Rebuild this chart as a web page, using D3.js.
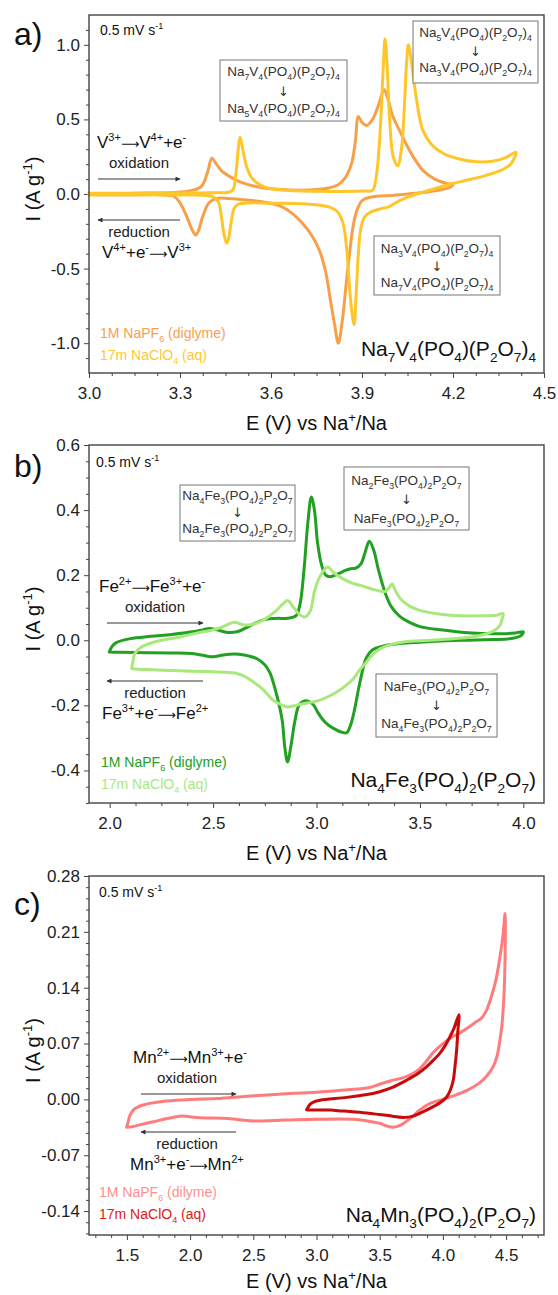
<!DOCTYPE html>
<html>
<head>
<meta charset="utf-8">
<script src="https://cdn.jsdelivr.net/npm/d3@7"></script>
<style>
body { margin: 0; background: #fff; }
svg { display: block; font-family: "Liberation Sans", Arial, sans-serif; }
.tick text { fill: #222; }
.tick line { stroke: #444; }
</style>
</head>
<body>
<svg width="558" height="1295"></svg>
<script>
// ---- data: [E (V vs Na+/Na), I (A g-1)] ----
var vDiglyme = [[3.0,0.0],[3.1,0.003],[3.2,0.006],[3.28,0.01],[3.33,0.02],[3.37,0.05],[3.39,0.14],[3.405,0.24],[3.42,0.2],[3.44,0.15],[3.47,0.11],[3.5,0.08],[3.55,0.05],[3.6,0.035],[3.65,0.028],[3.7,0.025],[3.75,0.03],[3.79,0.04],[3.82,0.06],[3.845,0.11],[3.865,0.2],[3.878,0.35],[3.888,0.52],[3.9,0.48],[3.915,0.46],[3.935,0.5],[3.955,0.6],[3.973,0.70],[3.985,0.64],[4.0,0.53],[4.03,0.4],[4.06,0.28],[4.1,0.16],[4.14,0.1],[4.18,0.07],[4.2,0.065],
  [4.19,0.045],[4.15,0.025],[4.1,0.01],[4.05,0.0],[4.0,-0.01],[3.95,-0.015],[3.92,-0.025],[3.9,-0.045],[3.885,-0.1],[3.872,-0.2],[3.86,-0.38],[3.848,-0.6],[3.835,-0.85],[3.822,-1.0],[3.81,-0.88],[3.795,-0.7],[3.78,-0.52],[3.76,-0.38],[3.735,-0.28],[3.705,-0.2],[3.67,-0.13],[3.63,-0.08],[3.58,-0.055],[3.52,-0.04],[3.46,-0.03],[3.42,-0.03],[3.395,-0.06],[3.375,-0.15],[3.36,-0.25],[3.352,-0.275],[3.34,-0.24],[3.32,-0.14],[3.3,-0.06],[3.28,-0.015],[3.24,-0.005],[3.15,-0.005],[3.0,-0.003]];
var vAq = [[3.0,0.005],[3.2,0.006],[3.4,0.008],[3.46,0.012],[3.475,0.03],[3.485,0.15],[3.492,0.3],[3.498,0.38],[3.507,0.3],[3.52,0.18],[3.54,0.1],[3.565,0.06],[3.6,0.035],[3.65,0.025],[3.7,0.02],[3.8,0.017],[3.9,0.02],[3.935,0.025],[3.943,0.07],[3.952,0.2],[3.962,0.5],[3.97,0.85],[3.976,1.04],[3.983,0.85],[3.992,0.47],[4.003,0.25],[4.018,0.19],[4.03,0.3],[4.04,0.6],[4.047,0.88],[4.053,1.0],[4.062,0.9],[4.08,0.63],[4.1,0.43],[4.13,0.33],[4.17,0.27],[4.22,0.235],[4.28,0.216],[4.33,0.22],[4.37,0.24],[4.408,0.28],
  [4.39,0.2],[4.36,0.16],[4.3,0.12],[4.24,0.09],[4.2,0.07],[4.13,0.03],[4.08,0.0],[4.04,-0.03],[4.01,-0.06],[3.99,-0.085],[3.96,-0.1],[3.93,-0.12],[3.91,-0.15],[3.897,-0.22],[3.888,-0.4],[3.88,-0.7],[3.874,-0.875],[3.866,-0.78],[3.858,-0.6],[3.85,-0.38],[3.838,-0.2],[3.82,-0.12],[3.795,-0.09],[3.76,-0.075],[3.7,-0.065],[3.6,-0.062],[3.53,-0.06],[3.49,-0.07],[3.478,-0.1],[3.468,-0.2],[3.46,-0.3],[3.454,-0.33],[3.446,-0.28],[3.437,-0.16],[3.428,-0.06],[3.415,-0.025],[3.39,-0.01],[3.3,-0.006],[3.0,-0.006]];

var feDiglyme = [[1.998,-0.036],[2.01,-0.02],[2.03,-0.008],[2.1,0.005],[2.2,0.012],[2.3,0.018],[2.4,0.026],[2.45,0.032],[2.48,0.036],[2.52,0.032],[2.57,0.024],[2.62,0.027],[2.68,0.045],[2.74,0.062],[2.8,0.067],[2.86,0.068],[2.9,0.075],[2.92,0.11],[2.94,0.22],[2.958,0.36],[2.975,0.44],[2.99,0.4],[3.005,0.3],[3.025,0.23],[3.045,0.2],[3.065,0.195],[3.09,0.2],[3.115,0.207],[3.14,0.215],[3.165,0.22],[3.19,0.222],[3.215,0.235],[3.235,0.27],[3.255,0.304],[3.275,0.28],[3.3,0.215],[3.33,0.15],[3.36,0.105],[3.4,0.075],[3.45,0.055],[3.5,0.042],[3.6,0.032],[3.7,0.025],[3.8,0.021],[3.9,0.02],[3.96,0.022],[4.0,0.026],
  [3.99,0.015],[3.95,0.006],[3.85,0.002],[3.7,0.0],[3.55,-0.004],[3.4,-0.01],[3.32,-0.018],[3.27,-0.03],[3.24,-0.055],[3.22,-0.1],[3.2,-0.16],[3.185,-0.21],[3.165,-0.26],[3.146,-0.284],[3.12,-0.282],[3.098,-0.276],[3.06,-0.262],[3.033,-0.246],[3.005,-0.22],[2.985,-0.198],[2.96,-0.187],[2.936,-0.188],[2.915,-0.2],[2.895,-0.25],[2.875,-0.33],[2.86,-0.374],[2.847,-0.33],[2.835,-0.25],[2.82,-0.2],[2.8,-0.15],[2.775,-0.1],[2.75,-0.075],[2.71,-0.056],[2.65,-0.045],[2.6,-0.042],[2.55,-0.045],[2.5,-0.051],[2.45,-0.046],[2.4,-0.041],[2.3,-0.039],[2.18,-0.038],[2.05,-0.037],[1.998,-0.036]];
var feAq = [[2.106,-0.087],[2.114,-0.06],[2.122,-0.04],[2.15,-0.022],[2.18,-0.013],[2.25,0.0],[2.34,0.01],[2.42,0.022],[2.5,0.032],[2.56,0.045],[2.6,0.055],[2.65,0.047],[2.7,0.05],[2.75,0.065],[2.8,0.088],[2.835,0.11],[2.86,0.122],[2.89,0.1],[2.92,0.078],[2.945,0.072],[2.97,0.09],[2.99,0.15],[3.02,0.2],[3.055,0.225],[3.08,0.21],[3.1,0.2],[3.14,0.185],[3.18,0.174],[3.22,0.167],[3.26,0.159],[3.3,0.152],[3.33,0.15],[3.35,0.16],[3.365,0.173],[3.38,0.155],[3.405,0.128],[3.45,0.105],[3.5,0.092],[3.6,0.08],[3.7,0.075],[3.8,0.075],[3.87,0.077],[3.903,0.082],
  [3.895,0.06],[3.887,0.046],[3.86,0.03],[3.823,0.02],[3.75,0.01],[3.662,0.005],[3.55,0.0],[3.42,-0.005],[3.35,-0.015],[3.307,-0.026],[3.27,-0.045],[3.243,-0.066],[3.21,-0.09],[3.178,-0.118],[3.14,-0.14],[3.098,-0.159],[3.06,-0.172],[3.017,-0.184],[2.976,-0.19],[2.936,-0.195],[2.9,-0.2],[2.86,-0.205],[2.83,-0.198],[2.79,-0.184],[2.74,-0.15],[2.695,-0.128],[2.65,-0.11],[2.614,-0.102],[2.55,-0.098],[2.5,-0.097],[2.4,-0.095],[2.26,-0.092],[2.18,-0.09],[2.12,-0.088],[2.106,-0.087]];

var mnDiglyme = [[1.498,-0.035],[1.51,-0.028],[1.524,-0.02],[1.56,-0.012],[1.63,-0.007],[1.72,-0.004],[1.81,-0.002],[2.0,0.0],[2.21,0.001],[2.45,0.004],[2.7,0.0065],[3.0,0.009],[3.25,0.012],[3.42,0.015],[3.5,0.019],[3.58,0.023],[3.7,0.028],[3.79,0.035],[3.86,0.046],[3.92,0.058],[3.98,0.067],[4.06,0.077],[4.14,0.084],[4.21,0.091],[4.26,0.097],[4.3,0.101],[4.34,0.11],[4.38,0.127],[4.42,0.15],[4.45,0.177],[4.475,0.205],[4.492,0.233],
  [4.494,0.2],[4.488,0.15],[4.478,0.115],[4.465,0.09],[4.451,0.074],[4.43,0.055],[4.398,0.041],[4.35,0.03],[4.293,0.021],[4.2,0.012],[4.109,0.006],[4.0,0.0],[3.9,-0.005],[3.82,-0.013],[3.74,-0.024],[3.67,-0.032],[3.607,-0.035],[3.55,-0.033],[3.5,-0.03],[3.4,-0.027],[3.29,-0.025],[3.0,-0.025],[2.75,-0.026],[2.5,-0.027],[2.3,-0.024],[2.08,-0.023],[1.92,-0.021],[1.82,-0.024],[1.71,-0.028],[1.6,-0.032],[1.55,-0.034],[1.498,-0.035]];
var mnAq = [[2.922,-0.013],[2.95,-0.006],[2.98,-0.003],[3.028,-0.001],[3.24,0.0025],[3.4,0.006],[3.5,0.0095],[3.6,0.015],[3.713,0.024],[3.8,0.032],[3.872,0.041],[3.93,0.05],[3.977,0.058],[4.02,0.068],[4.056,0.0785],[4.09,0.09],[4.127,0.106],
  [4.118,0.085],[4.109,0.062],[4.095,0.04],[4.082,0.024],[4.06,0.012],[4.03,0.003],[3.98,-0.004],[3.924,-0.009],[3.85,-0.015],[3.766,-0.021],[3.687,-0.0226],[3.55,-0.02],[3.37,-0.0168],[3.2,-0.0145],[3.107,-0.0134],[2.95,-0.0133],[2.922,-0.013]];

var xTicksA = [3.0, 3.3, 3.6, 3.9, 4.2, 4.5];
var yTicksA = [-1.0, -0.5, 0.0, 0.5, 1.0];
var xTicksB = [2.0, 2.5, 3.0, 3.5, 4.0];
var yTicksB = [-0.4, -0.2, 0.0, 0.2, 0.4, 0.6];
var xTicksC = [1.5, 2.0, 2.5, 3.0, 3.5, 4.0, 4.5];
var yTicksC = [-0.14, -0.07, 0.0, 0.07, 0.14, 0.21, 0.28];

var electrolytes = ["1M NaPF_6 (diglyme)", "17m NaClO_4 (aq)"];
var electrolytesC = ["1M NaPF_6 (dilyme)", "17m NaClO_4 (aq)"];

var svg = d3.select("svg");

var defs = svg.append("defs");
defs.append("marker").attr("id", "ah")
    .attr("viewBox", "0 0 10 10").attr("refX", 9).attr("refY", 5)
    .attr("markerWidth", 7).attr("markerHeight", 5)
    .attr("orient", "auto")
  .append("path").attr("d", "M0,0L10,5L0,10z").attr("fill", "#333");

// split "Na_4Fe^{3+}" into normal / sub / sup pieces
function tokens(str){
    var out = [], i = 0, buf = "";
    while (i < str.length) {
        var c = str[i];
        if (c === "_" || c === "^") {
            if (buf) { out.push({t: buf, k: 0}); buf = ""; }
            var s;
            if (str[i+1] === "{") { var j = str.indexOf("}", i); s = str.slice(i+2, j); i = j + 1; }
            else { s = str[i+1]; i += 2; }
            out.push({t: s, k: c === "_" ? 1 : -1});
        } else if (c === "\u27F6") {
            if (buf) { out.push({t: buf, k: 0}); buf = ""; }
            out.push({t: c, k: 0, arrow: true});
            i++;
        } else { buf += c; i++; }
    }
    if (buf) out.push({t: buf, k: 0});
    return out;
}

function richText(g, str, x, y, size, color, anchor){
    var t = g.append("text")
        .attr("x", x).attr("y", y)
        .attr("font-size", size)
        .attr("fill", color || "#111")
        .attr("text-anchor", anchor || "start");
    var cur = 0;
    tokens(str).forEach(function(tk){
        var off = tk.k === 1 ? size * 0.3 : (tk.k === -1 ? -size * 0.42 : 0);
        var ts = t.append("tspan")
            .attr("dy", off - cur)
            .attr("font-size", tk.k ? size * 0.65 : size)
            .text(tk.t);
        if (tk.arrow) ts.attr("font-family", "DejaVu Sans").attr("font-size", size * 0.75);
        cur = off;
    });
    return t;
}

function minorTicks(lo, hi, step, major){
    return d3.range(lo, hi + step / 2, step).filter(function(v){
        var r = v / major;
        return Math.abs(r - Math.round(r)) > 1e-6;
    });
}

function arrow(g, x1, x2, y){
    g.append("line").attr("x1", x1).attr("x2", x2).attr("y1", y).attr("y2", y)
        .attr("stroke", "#333").attr("stroke-width", 1)
        .attr("marker-end", "url(#ah)");
}

function box(g, x0, y0, w, h, top, bottom, ys){
    g.append("rect").attr("x", x0).attr("y", y0).attr("width", w).attr("height", h)
        .attr("fill", "#fff").attr("stroke", "#777").attr("stroke-width", 1);
    var cx = x0 + w / 2;
    richText(g, top, cx, ys[0], 13.5, "#333", "middle");
    g.append("text").attr("x", cx).attr("y", ys[1]).attr("font-size", 13)
        .attr("font-family", "DejaVu Sans")
        .attr("fill", "#333").attr("text-anchor", "middle").text("\u2193");
    richText(g, bottom, cx, ys[2], 13.5, "#333", "middle");
}

function drawPanel(p){
    var g = svg.append("g").attr("transform", "translate(" + p.left + "," + p.top + ")");
    var w = p.width, h = p.height;

    var x = d3.scaleLinear().domain(p.xDomain).range([0, w]);
    var y = d3.scaleLinear().domain(p.yDomain).range([h, 0]);

    g.append("g").attr("transform", "translate(0," + h + ")")
        .call(d3.axisBottom(x).tickValues(p.xMinor).tickSize(3).tickFormat(""));
    g.append("g")
        .call(d3.axisLeft(y).tickValues(p.yMinor).tickSize(3).tickFormat(""));

    g.append("g").attr("transform", "translate(0," + h + ")")
        .call(d3.axisBottom(x).tickValues(p.xTicks).tickSize(5).tickPadding(9)
            .tickFormat(function(d){ return d.toFixed(1); }))
        .selectAll("text").attr("font-size", 17).attr("font-family", null);
    g.append("g")
        .call(d3.axisLeft(y).tickValues(p.yTicks).tickSize(5).tickPadding(4)
            .tickFormat(function(d){ return d.toFixed(p.yDec); }))
        .selectAll("text").attr("font-size", 17).attr("font-family", null);
    g.selectAll(".domain").remove();

    var line = d3.line()
        .x(function(d){ return x(d[0]); })
        .y(function(d){ return y(d[1]); })
        .curve(d3.curveCatmullRom.alpha(0.5));

    p.series.forEach(function(s){
        g.append("path")
            .datum(s.data)
            .attr("fill", "none")
            .attr("stroke", s.color)
            .attr("stroke-width", 3)
            .attr("stroke-linejoin", "round")
            .attr("stroke-linecap", "round")
            .attr("d", line);
    });

    g.append("rect").attr("width", w).attr("height", h)
        .attr("fill", "none").attr("stroke", "#444").attr("stroke-width", 1.4);

    // axis titles + panel letter
    richText(g, "E (V) vs Na^{+}/Na", w / 2, p.xTitleY, 20, "#111", "middle");
    var yt = richText(svg.append("g"), "I (A g^{-1})", 0, 0, 20, "#111", "middle");
    yt.attr("transform", "translate(40," + (p.top + h / 2 - 5) + ") rotate(-90)");
    svg.append("text").attr("x", 14).attr("y", p.top + p.letterY)
        .attr("font-size", 32).attr("fill", "#111").text(p.letter);

    // annotations
    richText(g, "0.5 mV s^{-1}", p.rateX, p.rateY, 14, "#111");
    richText(g, p.ox, p.oxX, p.oxY, 17, "#111");
    g.append("text").attr("x", p.oxLabelX).attr("y", p.oxY + 20).attr("font-size", 15)
        .attr("text-anchor", "middle").attr("fill", "#222").text("oxidation");
    arrow(g, p.arrowL, p.arrowR, p.oxY + 31);
    arrow(g, p.arrowR, p.arrowL, p.redArrowY);
    g.append("text").attr("x", p.oxLabelX).attr("y", p.redArrowY + 17).attr("font-size", 15)
        .attr("text-anchor", "middle").attr("fill", "#222").text("reduction");
    richText(g, p.red, p.redX, p.redArrowY + 38, 17, "#111");

    richText(g, p.legend[0], p.legX, p.legY, 14, p.legColors[0]);
    richText(g, p.legend[1], p.legX, p.legY + 21.5, 14, p.legColors[1]);
    richText(g, p.formula, w - 8, p.formulaY, 21, "#111", "end");

    p.boxes.forEach(function(b){ box(g, b[0], b[1], b[2], b[3], b[4], b[5], b[6]); });
}

drawPanel({
    left: 89, top: 15, width: 455, height: 358,
    xDomain: [3.0, 4.5], yDomain: [-1.2, 1.2], yDec: 1,
    xTicks: xTicksA, yTicks: yTicksA,
    xMinor: minorTicks(3.0, 4.5, 0.075, 0.3), yMinor: minorTicks(-1.1, 1.1, 0.1, 0.5),
    series: [{data: vDiglyme, color: "#F7A04A"}, {data: vAq, color: "#FFC62A"}],
    xTitleY: 415, letter: "a)", letterY: 30,
    rateX: 11, rateY: 20,
    ox: "V^{3+}\u27F6V^{4+}+e^{-}", oxX: 8, oxY: 133, oxLabelX: 50,
    arrowL: 9, arrowR: 91, redArrowY: 205,
    red: "V^{4+}+e^{-}\u27F6V^{3+}", redX: 13,
    legend: electrolytes, legColors: ["#F8A050", "#FFC830"], legX: 11, legY: 323,
    formula: "Na_7V_4(PO_4)(P_2O_7)_4", formulaY: 341,
    boxes: [
        [131, 45, 127, 61, "Na_7V_4(PO_4)(P_2O_7)_4", "Na_5V_4(PO_4)(P_2O_7)_4", [61, 81, 98]],
        [324, 6, 125, 62, "Na_5V_4(PO_4)(P_2O_7)_4", "Na_3V_4(PO_4)(P_2O_7)_4", [22, 41, 57]],
        [285, 221, 126, 59, "Na_3V_4(PO_4)(P_2O_7)_4", "Na_7V_4(PO_4)(P_2O_7)_4", [238, 256, 272]]
    ]
});

drawPanel({
    left: 89, top: 445, width: 455, height: 358,
    xDomain: [1.9, 4.1], yDomain: [-0.5, 0.6], yDec: 1,
    xTicks: xTicksB, yTicks: yTicksB,
    xMinor: minorTicks(2.0, 4.0, 0.125, 0.5), yMinor: minorTicks(-0.5, 0.6, 0.05, 0.2),
    series: [{data: feDiglyme, color: "#22A022"}, {data: feAq, color: "#A8E87C"}],
    xTitleY: 415, letter: "b)", letterY: 32,
    rateX: 7, rateY: 22,
    ox: "Fe^{2+}\u27F6Fe^{3+}+e^{-}", oxX: 10, oxY: 147, oxLabelX: 66,
    arrowL: 18, arrowR: 114, redArrowY: 236,
    red: "Fe^{3+}+e^{-}\u27F6Fe^{2+}", redX: 13,
    legend: electrolytes, legColors: ["#22A022", "#A8E87C"], legX: 12, legY: 322,
    formula: "Na_4Fe_3(PO_4)_2(P_2O_7)", formulaY: 342,
    boxes: [
        [91, 40, 115, 56, "Na_4Fe_3(PO_4)_2P_2O_7", "Na_2Fe_3(PO_4)_2P_2O_7", [55, 72, 88]],
        [255, 22, 125, 63, "Na_2Fe_3(PO_4)_2P_2O_7", "NaFe_3(PO_4)_2P_2O_7", [40, 59, 78]],
        [287, 229, 121, 63, "NaFe_3(PO_4)_2P_2O_7", "Na_4Fe_3(PO_4)_2P_2O_7", [246, 265, 283]]
    ]
});

drawPanel({
    left: 89, top: 876, width: 455, height: 359,
    xDomain: [1.2, 4.8], yDomain: [-0.17, 0.28], yDec: 2,
    xTicks: xTicksC, yTicks: yTicksC,
    xMinor: minorTicks(1.25, 4.75, 0.125, 0.5), yMinor: minorTicks(-0.168, 0.28, 0.014, 0.07),
    series: [{data: mnDiglyme, color: "#FF7C7C"}, {data: mnAq, color: "#C80A0A"}],
    xTitleY: 412, letter: "c)", letterY: 39,
    rateX: 10, rateY: 21,
    ox: "Mn^{2+}\u27F6Mn^{3+}+e^{-}", oxX: 44, oxY: 187, oxLabelX: 98,
    arrowL: 52, arrowR: 147, redArrowY: 256,
    red: "Mn^{3+}+e^{-}\u27F6Mn^{2+}", redX: 41,
    legend: electrolytesC, legColors: ["#FF9090", "#E01818"], legX: 10, legY: 321,
    formula: "Na_4Mn_3(PO_4)_2(P_2O_7)", formulaY: 346,
    boxes: []
});
</script>
</body>
</html>
